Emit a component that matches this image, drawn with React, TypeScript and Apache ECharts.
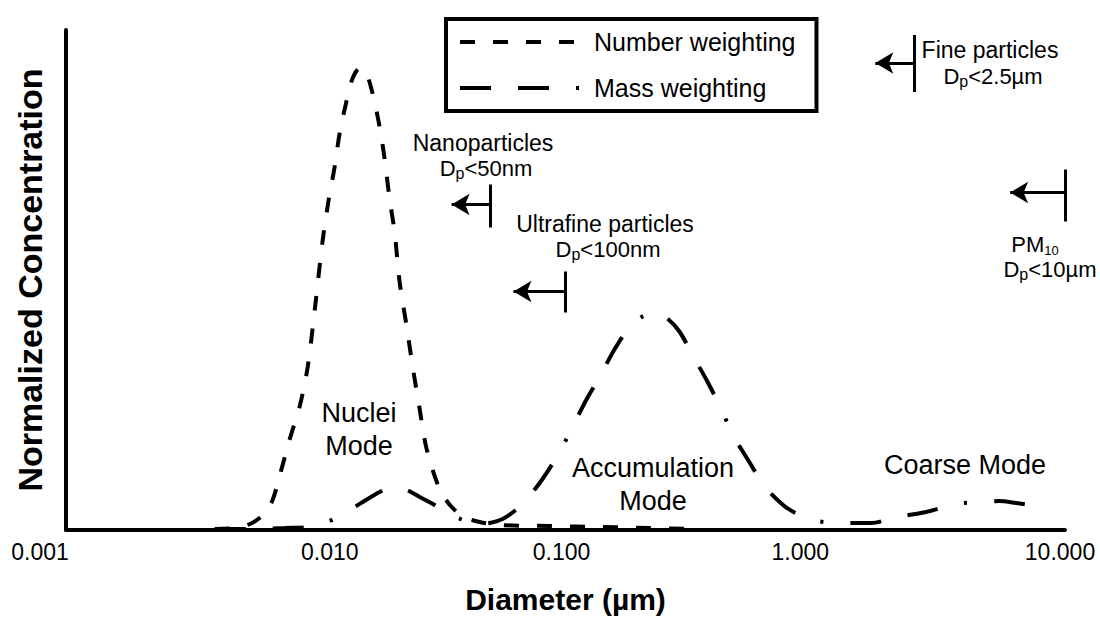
import React, { useEffect, useRef } from 'react';
import * as echarts from 'echarts';

const FONT = '"Liberation Sans", Arial, Helvetica, sans-serif';

// x tick labels (log axis, µm)
const xTickLabels = ['0.001', '0.010', '0.100', '1.000', '10.000'];

// Number weighting curve
const numberDiam = [0.00394, 0.00474, 0.00545, 0.00608, 0.00667, 0.00724, 0.00787, 0.00863, 0.00929, 0.00991, 0.01067, 0.01127, 0.01191, 0.01247, 0.01331, 0.01406, 0.0150, 0.01585, 0.01675, 0.01803, 0.01888, 0.01977, 0.0207, 0.02168, 0.02312, 0.02443, 0.02606, 0.0278, 0.03133, 0.035, 0.03945, 0.04529, 0.05445, 0.0863, 0.1368, 0.2168, 0.3436];
const numberConc = [0.002, 0.004, 0.012, 0.028, 0.056, 0.116, 0.182, 0.248, 0.327, 0.441, 0.581, 0.661, 0.727, 0.794, 0.860, 0.904, 0.924, 0.916, 0.880, 0.806, 0.741, 0.661, 0.595, 0.495, 0.407, 0.327, 0.242, 0.162, 0.082, 0.046, 0.026, 0.016, 0.010, 0.008, 0.006, 0.004, 0.002];

// Mass weighting curve
const massDiam = [0.00394, 0.00545, 0.00752, 0.01009, 0.01247, 0.01432, 0.01614, 0.01803, 0.02032, 0.0227, 0.02606, 0.02992, 0.03342, 0.03698, 0.0413, 0.04529, 0.04966, 0.05598, 0.06252, 0.06855, 0.08091, 0.09462, 0.1067, 0.1213, 0.138, 0.157, 0.1837, 0.207, 0.2312, 0.2559, 0.2858, 0.3251, 0.3698, 0.4207, 0.4656, 0.5445, 0.6252, 0.7516, 0.863, 0.9638, 1.225, 1.675, 2.128, 2.78, 3.664, 4.656, 5.445, 6.368, 8.091];
const massConc = [0.002, 0.002, 0.004, 0.008, 0.028, 0.046, 0.062, 0.076, 0.086, 0.082, 0.066, 0.050, 0.034, 0.024, 0.016, 0.012, 0.014, 0.022, 0.038, 0.056, 0.102, 0.156, 0.206, 0.261, 0.309, 0.361, 0.411, 0.429, 0.435, 0.423, 0.397, 0.347, 0.297, 0.242, 0.192, 0.136, 0.088, 0.048, 0.030, 0.020, 0.014, 0.014, 0.026, 0.036, 0.052, 0.056, 0.058, 0.054, 0.046];

// Size cut-offs
const cutoffNames = ['Fine particles', 'Nanoparticles', 'Ultrafine particles', 'PM'];
const cutoffDiam = [2.5, 0.05, 0.1, 10];
const cutoffText = ['<2.5µm', '<50nm', '<100nm', '<10µm'];

// Mode labels
const modeLabels = ['Nuclei\nMode', 'Accumulation\nMode', 'Coarse Mode'];

const seriesNames = ['Number weighting', 'Mass weighting'];

// layout of cut-off markers (bar extent / arrow height in concentration units, arrow tip diameter)
const cutoffLayout = [
  { top: 0.99, bottom: 0.876, arrowY: 0.934, tip: 1.74 },
  { top: 0.691, bottom: 0.605, arrowY: 0.651, tip: 0.035 },
  { top: 0.517, bottom: 0.435, arrowY: 0.477, tip: 0.0619 },
  { top: 0.721, bottom: 0.617, arrowY: 0.675, tip: 6.03 },
];

// pixel layout of texts
const cutoffTextPos = [
  { name: [990, 50], sub: [993, 77] },
  { name: [483, 143], sub: [486, 169] },
  { name: [605, 224], sub: [608, 250] },
  { name: [1035, 245], sub: [1050, 270] },
];
const modePos = [[359, 429], [653, 484], [965, 465]];
// horizontal nudges of tick labels (px), as placed in the reference
const tickNudge = [-26, 14, -4, -15, -5];

const baseText = (size: number) => ({ fontSize: size, fontFamily: FONT, fill: '#000' });

const subRich = {
  b: { fontSize: 22, lineHeight: 24, verticalAlign: 'top', fontFamily: FONT, fill: '#000' },
  s: { fontSize: 16, lineHeight: 16, padding: [17, 0, 0, 0], verticalAlign: 'bottom', fontFamily: FONT, fill: '#000' },
  s2: { fontSize: 13, lineHeight: 12, padding: [11, 0, 0, 0], verticalAlign: 'bottom', fontFamily: FONT, fill: '#000' },
};

const tickRich: Record<string, any> = {};
tickNudge.forEach((s, i) => {
  tickRich['t' + i] = {
    fontSize: 23,
    fontFamily: FONT,
    color: '#000',
    padding: s >= 0 ? [0, 0, 0, 2 * s] : [0, -2 * s, 0, 0],
  };
});

export default function App() {
  const ref = useRef<HTMLDivElement>(null);

  useEffect(() => {
    document.body.style.margin = '0';
    if (!ref.current) return;
    const chart = echarts.init(ref.current, null, { renderer: 'svg' });

    const graphic: any[] = [];
    cutoffNames.forEach((name, i) => {
      const p = cutoffTextPos[i];
      if (name === 'PM') {
        graphic.push({
          type: 'text', x: p.name[0], y: p.name[1] - 12,
          style: { text: '{b|PM}{s2|10}', rich: subRich, align: 'center', verticalAlign: 'top' },
        });
      } else {
        graphic.push({
          type: 'text', x: p.name[0], y: p.name[1],
          style: { ...baseText(23), text: name, align: 'center', verticalAlign: 'middle' },
        });
      }
      graphic.push({
        type: 'text', x: p.sub[0], y: p.sub[1] - 12,
        style: { text: '{b|D}{s|p}{b|' + cutoffText[i] + '}', rich: subRich, align: 'center', verticalAlign: 'top' },
      });
    });
    modeLabels.forEach((t, i) => {
      graphic.push({
        type: 'text', x: modePos[i][0], y: modePos[i][1],
        style: { ...baseText(27), text: t, lineHeight: 33, align: 'center', verticalAlign: 'middle' },
      });
    });

    const markData: any[] = [];
    cutoffDiam.forEach((d, i) => {
      const L = cutoffLayout[i];
      markData.push([{ coord: [d, L.top] }, { coord: [d, L.bottom] }]);
      markData.push([
        { coord: [d, L.arrowY] },
        { coord: [L.tip, L.arrowY], symbol: 'arrow', symbolSize: [16, 18] },
      ]);
    });

    chart.setOption({
      animation: false,
      backgroundColor: '#fff',
      grid: { left: 66, right: 35, top: 30, bottom: 88 },
      legend: {
        data: seriesNames,
        orient: 'vertical',
        left: 446,
        top: 19,
        padding: [8, 21, 8, 12],
        itemWidth: 119,
        itemHeight: 14,
        itemGap: 16,
        borderColor: '#000',
        borderWidth: 4,
        borderRadius: 0,
        selectedMode: false,
        itemStyle: { color: 'rgba(0,0,0,0)', borderWidth: 0, opacity: 0 },
        lineStyle: { width: 4 },
        textStyle: { fontSize: 25, fontFamily: FONT, color: '#000', lineHeight: 30, padding: [0, 0, 0, 10] },
      },
      xAxis: {
        type: 'log',
        logBase: 10,
        min: 0.001,
        max: 10,
        name: 'Diameter (µm)',
        nameLocation: 'middle',
        nameGap: 54,
        nameTextStyle: { fontSize: 30, fontWeight: 'bold', fontFamily: FONT, color: '#000' },
        axisLine: { show: true, onZero: false, lineStyle: { color: '#000', width: 4 } },
        axisTick: { show: false },
        splitLine: { show: false },
        minorTick: { show: false },
        axisLabel: {
          fontSize: 23,
          fontFamily: FONT,
          color: '#000',
          margin: 10,
          rich: tickRich,
          formatter: (v: number) => {
            const i = xTickLabels.findIndex((l) => Math.abs(Math.log10(Number(l)) - Math.log10(v)) < 1e-6);
            return i < 0 ? '' : '{t' + i + '|' + xTickLabels[i] + '}';
          },
        },
      },
      yAxis: {
        type: 'value',
        min: 0,
        max: 1,
        name: 'Normalized Concentration',
        nameLocation: 'middle',
        nameGap: 19,
        nameTextStyle: { fontSize: 34, fontWeight: 'bold', fontFamily: FONT, color: '#000' },
        axisLine: { show: true, lineStyle: { color: '#000', width: 4 } },
        axisTick: { show: false },
        axisLabel: { show: false },
        splitLine: { show: false },
      },
      series: [
        {
          name: seriesNames[0],
          type: 'line',
          data: numberDiam.map((d, i) => [d, numberConc[i]]),
          symbol: 'none',
          smooth: 0.3,
          lineStyle: { color: '#000', width: 4, type: [15, 18] },
          itemStyle: { color: '#000' },
          silent: true,
        },
        {
          name: seriesNames[1],
          type: 'line',
          data: massDiam.map((d, i) => [d, massConc[i]]),
          symbol: 'none',
          smooth: 0.3,
          lineStyle: { color: '#000', width: 4, type: [31, 27, 31, 27, 3, 27] },
          itemStyle: { color: '#000' },
          silent: true,
        },
        {
          name: 'cutoffs',
          type: 'line',
          data: [],
          silent: true,
          markLine: {
            silent: true,
            symbol: ['none', 'none'],
            label: { show: false },
            lineStyle: { color: '#000', width: 3, type: 'solid' },
            emphasis: { disabled: true },
            data: markData,
          },
        },
      ],
      graphic,
    });

    return () => chart.dispose();
  }, []);

  return <div ref={ref} style={{ width: 1100, height: 619 }} />;
}
